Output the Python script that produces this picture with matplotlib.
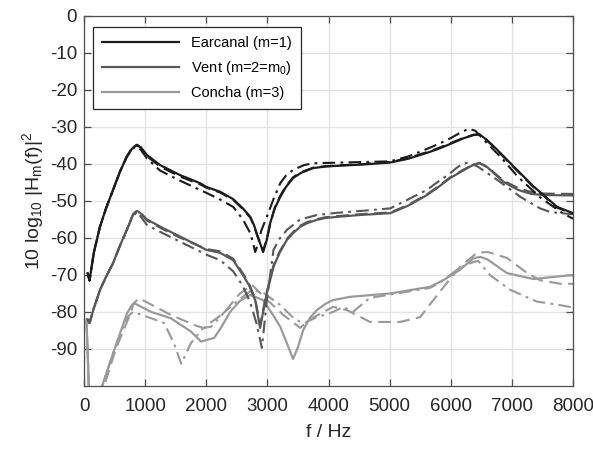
import matplotlib
matplotlib.use("Agg")
import matplotlib.pyplot as plt

plt.rcParams['font.family'] = ['Liberation Sans', 'DejaVu Sans']
plt.rcParams['mathtext.fontset'] = 'custom'
plt.rcParams['mathtext.rm'] = 'Liberation Sans'
plt.rcParams['mathtext.it'] = 'Liberation Sans'
plt.rcParams['axes.unicode_minus'] = False

# ---------------- data ----------------
ear_solid_f = [60, 90, 160, 260, 360, 475, 590, 700, 780, 830, 870, 930, 1030, 1245, 1570, 1900, 2000,
               2225, 2440, 2600, 2720, 2780, 2830, 2930, 2990, 3045, 3120, 3210, 3300, 3420, 3550,
               3750, 3950, 4140, 4600, 5010, 5300, 5610, 5800, 5990, 6200, 6370, 6470, 6590, 6750,
               6970, 7350, 7740, 8000]
ear_solid_db = [-69.5, -71.5, -64, -57, -52, -47, -42, -38, -36, -35.2, -35, -35.5, -37.6, -40.3, -43,
                -45.2, -46.2, -47.5, -49.5, -52, -54.3, -56.5, -59, -63.8, -60.5, -56, -52, -48.9,
                -46.3, -43.8, -42.4, -41.1, -40.7, -40.5, -40.1, -39.6, -38.6, -37, -35.9, -34.6,
                -33.1, -32.2, -32, -33.5, -36, -39.7, -46, -51.6, -53.3]

ear_dash_f = ear_solid_f
ear_dash_db = [-69.5, -71.5, -64, -57, -52, -47, -42, -38, -35.8, -35, -34.8, -35.6, -37.9, -40.7,
               -43.4, -45.5, -46.4, -47.7, -49.7, -52.2, -54.5, -56.7, -59.2, -63.5, -60.3, -56.3,
               -51.8, -48.6, -46.1, -43.6, -42.2, -41, -40.6, -40.4, -40, -39.5, -38.4, -36.8, -35.7,
               -34.4, -33, -32.1, -32, -33.6, -36.2, -39.9, -46.2, -51.8, -53.5]

ear_dashdot_f = [60, 90, 160, 260, 360, 475, 590, 700, 780, 830, 860, 930, 1030, 1245, 1570, 2000, 2225,
                 2440, 2600, 2720, 2760, 2800, 2850, 2900, 2990, 3100, 3210, 3300, 3420, 3600, 3750,
                 4500, 5000, 5300, 5600, 5800, 6000, 6150, 6290, 6400, 6600, 6810, 7100, 7460, 7800,
                 8000]
ear_dashdot_db = [-69.5, -71.5, -64, -57, -52, -47, -42, -38, -36.2, -35.4, -35.2, -36.2, -38.5, -41.8,
                  -44.5, -47.8, -49.6, -51.6, -55, -58.7, -61, -63.8, -61.5, -58, -54.3, -49.5, -45.2,
                  -43.2, -41.6, -40.3, -39.8, -39.5, -39.3, -38, -36, -34.6, -33, -31.6, -30.5, -31,
                  -34.5, -38, -43.5, -49, -53, -54.8]

vent_solid_f = [60, 90, 160, 262, 360, 475, 590, 700, 800, 870, 940, 1030, 1300, 1570, 2000, 2225,
                2440, 2600, 2700, 2800, 2880, 2990, 3100, 3200, 3320, 3420, 3535, 3650, 3810, 3950,
                4140, 4500, 5010, 5300, 5610, 5800, 5990, 6200, 6350, 6470, 6600, 6860, 7100, 7320,
                7530, 8000]
vent_solid_db = [-82, -83, -79, -74, -70.5, -66.8, -62, -57.8, -53.8, -52.7, -53.5, -55, -57.4, -59.6,
                 -63.2, -64, -66, -70, -72.8, -76.8, -84.3, -75, -67.8, -64, -60.5, -58.7, -57, -56,
                 -55.1, -54.6, -54.3, -53.8, -53.3, -51.3, -48.4, -46.2, -43.8, -41.8, -40.4, -39.8,
                 -40.9, -44.8, -47, -48.1, -48.4, -48.5]

vent_dash_f = vent_solid_f
vent_dash_db = [-82, -83, -79, -74, -70.5, -66.8, -62, -57.8, -53.6, -52.5, -53.6, -55.3, -57.7,
                -59.9, -63, -63.6, -65.6, -69.6, -72.4, -76.4, -83.5, -74.6, -67.4, -63.7, -60.2,
                -58.4, -56.7, -55.7, -54.9, -54.4, -54.1, -53.6, -53.1, -51.1, -48.2, -46, -43.6,
                -41.6, -40.3, -39.7, -40.8, -44.5, -46.5, -47.6, -48, -48.1]

vent_dashdot_f = [60, 90, 160, 262, 360, 475, 590, 700, 800, 870, 940, 1030, 1300, 1570, 2000, 2225,
                  2440, 2600, 2720, 2820, 2910, 2990, 3100, 3200, 3320, 3535, 3810, 4140, 4600, 5010,
                  5300, 5610, 5800, 5990, 6100, 6200, 6300, 6450, 6760, 7140, 7460, 7630, 8000]
vent_dashdot_db = [-82, -83, -79, -74, -70.5, -66.8, -62, -57.8, -54, -53, -54.5, -56.5, -58.8, -61,
                   -64.5, -66, -69, -73, -77.5, -83, -89.7, -77, -63.2, -60.2, -57.8, -55, -53.8,
                   -53.2, -52.6, -52, -49.6, -47, -44.7, -42.5, -41, -39.9, -39.6, -40.8, -44.3,
                   -48.9, -52, -53, -53.6]

concha_solid_f = [40, 70, 95, 250, 295, 500, 705, 780, 820, 900, 1100, 1420, 1750, 1915, 2130, 2250,
                  2390, 2550, 2717, 2930, 3100, 3210, 3320, 3420, 3500, 3585, 3700, 3810, 3950, 4075,
                  4355, 5010, 5660, 5900, 6150, 6370, 6480, 6600, 6920, 7350, 7700, 8000]
concha_solid_db = [-82, -96, -112, -112, -100, -90, -80.3, -78.2, -77.6, -78.3, -80, -81.7, -85.3, -88,
                   -87, -84, -80, -77, -75.4, -76.8, -81, -84, -88.5, -92.7, -89.5, -84.9, -81.5, -79.5,
                   -77.8, -76.8, -75.9, -75, -73.2, -71.2, -68.6, -65.5, -65.1, -65.8, -69.5, -71.1,
                   -70.5, -70]

concha_dash_f = [40, 70, 95, 280, 330, 520, 720, 820, 900, 1100, 1420, 1800, 1960, 2060, 2280, 2550,
                 2750, 3000, 3260, 3535, 3700, 4075, 4300, 4680, 5170, 5500, 5610, 5910, 6150, 6430,
                 6610, 6920, 7250, 7460, 7800, 8000]
concha_dash_db = [-82, -96, -112, -112, -100, -90, -82, -77.5, -76.3, -78, -80.8, -83.5, -84.4, -83,
                  -80.4, -75, -72.7, -76.8, -80.8, -84.3, -82, -78.6, -79.5, -82.7, -82.7, -81.4, -79,
                  -72.7, -67.8, -64, -63.8, -65.4, -69.5, -71.4, -72.4, -72.4]

concha_dashdot_f = [40, 70, 95, 260, 300, 500, 700, 800, 1100, 1310, 1470, 1590, 1750, 1950, 2080,
                    2300, 2550, 2750, 2950, 3200, 3450, 3600, 3800, 4075, 4240, 4400, 4570, 4680,
                    5010, 5660, 5830, 6150, 6370, 6450, 6640, 6970, 7410, 7740, 8000]
concha_dashdot_db = [-82, -96, -112, -112, -100, -90, -81.5, -80, -81.7, -83, -88.4, -94, -88.4,
                     -84.3, -84, -80, -76.5, -74, -75, -78, -82, -83, -81.5, -80, -78.6, -80,
                     -77.6, -76.2, -75.3, -73.5, -72, -68, -66.5, -66.2, -70, -74, -77.2, -78,
                     -78.8]

labels = ['Earcanal (m=1)', r'Vent (m=2=m$_{\mathrm{0}}$)', 'Concha (m=3)']
xticks = [0, 1000, 2000, 3000, 4000, 5000, 6000, 7000, 8000]
yticks = [0, -10, -20, -30, -40, -50, -60, -70, -80, -90]

# ---------------- styling ----------------
c_ear, c_vent, c_con = '#1c1c1c', '#585858', '#9a9a9a'
lw = 1.6
dash = (6, 3)
dashdot = (6, 2.5, 1.3, 2.5)

fig = plt.figure(figsize=(5.93, 4.53), dpi=100)
ax = fig.add_axes([0.1417, 0.148, 0.8246, 0.8167])

series = [
    (concha_dashdot_f, concha_dashdot_db, c_con, dashdot, None),
    (concha_dash_f, concha_dash_db, c_con, dash, None),
    (concha_solid_f, concha_solid_db, c_con, None, labels[2]),
    (vent_dashdot_f, vent_dashdot_db, c_vent, dashdot, None),
    (vent_dash_f, vent_dash_db, c_vent, dash, None),
    (vent_solid_f, vent_solid_db, c_vent, None, labels[1]),
    (ear_dashdot_f, ear_dashdot_db, c_ear, dashdot, None),
    (ear_dash_f, ear_dash_db, c_ear, dash, None),
    (ear_solid_f, ear_solid_db, c_ear, None, labels[0]),
]
handles = {}
for f, db, col, ds, lab in series:
    if ds is None:
        ln, = ax.plot(f, db, color=col, lw=lw, solid_joinstyle='round')
        handles[lab] = ln
    else:
        ln, = ax.plot(f, db, color=col, lw=lw * 0.95)
        ln.set_dashes(ds)

ax.set_xlim(0, 8000)
ax.set_ylim(-100, 0)
ax.set_xticks(xticks)
ax.set_yticks(yticks)
ax.grid(True, color='#e3e3e3', lw=1.0)
ax.set_axisbelow(True)
for s in ax.spines.values():
    s.set_color('#4d4d4d')
    s.set_linewidth(0.9)
ax.tick_params(direction='in', top=True, right=True, length=5, width=0.9,
               colors='#4d4d4d', labelcolor='#262626', labelsize=13.5)
ax.tick_params(axis='x', pad=9)
ax.tick_params(axis='y', pad=5)

ax.set_xlabel('f / Hz', fontsize=14, color='#262626', labelpad=6)
ax.set_ylabel(r'10 log$_{\mathrm{10}}$ |H$_{\mathrm{m}}$(f)|$^{\mathrm{2}}$', fontsize=14,
              color='#262626', labelpad=3)

leg = ax.legend([handles[l] for l in labels], labels, loc='upper left',
                bbox_to_anchor=(0.004, 0.989), fontsize=10.5, handlelength=5.3,
                fancybox=False, framealpha=1, edgecolor='#262626', borderpad=0.6,
                labelspacing=0.62, handletextpad=0.8)
leg.get_frame().set_linewidth(0.9)

fig.savefig('out.png', dpi=100)
